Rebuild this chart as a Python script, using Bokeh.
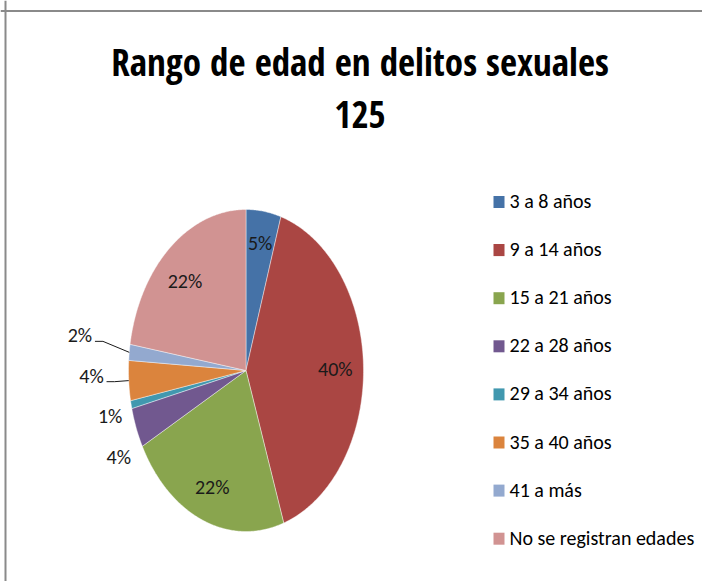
import numpy as np
from bokeh.plotting import figure
from bokeh.models import ColumnDataSource, Range1d, Span
from bokeh.core.properties import value
from bokeh.embed import file_html
from bokeh.resources import INLINE

# ---- data ----
title_lines = ["Rango de edad en delitos sexuales", "125"]
categories = ["3 a 8 años", "9 a 14 años", "15 a 21 años", "22 a 28 años",
              "29 a 34 años", "35 a 40 años", "41 a más", "No se registran edades"]
counts = [6, 50, 28, 5, 1, 5, 2, 28]
colors = ["#4572A7", "#AA4643", "#89A54E", "#71588F",
          "#4198AF", "#DB843D", "#93A9CF", "#D19392"]

# ---- layout / style (page pixels) ----
W, H = 702, 581
CX, CY, RX, RY = 245.5, 370.0, 117.5, 161.0
label_r = [0.80, 0.76, 0.78, 1.21, 1.19, 1.315, 1.43, 0.76]
label_dang = [0.0, 0.0, 0.0, -5.6, -1.4, 2.2, 2.3, -2.8]
leader = [False, False, False, False, False, True, True, False]
FONT = "Carlito"
TITLE_FONT = "Open Sans Condensed"

total = float(sum(counts))
frac = np.array(counts) / total
ends = np.cumsum(frac) * 2 * np.pi
starts = ends - frac * 2 * np.pi


def pt(theta, r):
    return CX + RX * r * np.sin(theta), CY - RY * r * np.cos(theta)


xs, ys = [], []
for s, e in zip(starts, ends):
    n = max(int((e - s) / 0.01), 2) + 1
    t = np.linspace(s, e, n)
    x, y = pt(t, 1.0)
    xs.append([CX] + list(x) + [CX])
    ys.append([CY] + list(y) + [CY])

pie_src = ColumnDataSource(dict(xs=xs, ys=ys, color=colors, label=categories))

p = figure(width=W, height=H, x_range=Range1d(0, W), y_range=Range1d(H, 0),
           x_axis_type=None, y_axis_type=None, toolbar_location=None,
           output_backend="svg", min_border=0, outline_line_color=None,
           outline_line_alpha=0, background_fill_color="white",
           border_fill_color="white")

# hide the canvas' right edge (chart border continues beyond the picture)
p.quad(left=[W - 9], right=[W + 2], top=[13], bottom=[H + 2], fill_color="white",
       line_color=None)

# chart border (left + top visible)
p.add_layout(Span(location=5, dimension="height", line_color="#8a8a8a", line_width=2))
p.add_layout(Span(location=10.5, dimension="width", line_color="#8a8a8a", line_width=2))

p.patches("xs", "ys", source=pie_src, fill_color="color", line_color="white",
          line_width=0.6, line_alpha=0.7)

# percentage labels
mids = (starts + ends) / 2
lx, ly, ltxt = [], [], []
for i, m in enumerate(mids):
    a = m + np.deg2rad(label_dang[i])
    x, y = pt(a, label_r[i])
    lx.append(x)
    ly.append(y)
    ltxt.append(f"{round(frac[i] * 100):.0f}%")
p.text(x=lx, y=ly, text=ltxt, text_font=value(FONT), text_font_size=value("20px"),
       text_align="center", text_baseline="middle", text_color="#1a1a1a")

# leader lines
mx, my = [], []
for i, m in enumerate(mids):
    if leader[i]:
        ex, ey = pt(m, 1.0)
        bx = lx[i] + 15
        by = ly[i] + 6
        mx.append([bx, bx + 8, ex])
        my.append([by, by, ey])
if mx:
    p.multi_line(mx, my, line_color="#1a1a1a", line_width=1)

# title
p.text(x=[359.5, 359.5], y=[61, 114], text=title_lines, text_font=value(TITLE_FONT),
       text_font_style="bold", text_font_size=value("37px"), text_align="center",
       text_baseline="middle", text_color="black")

# legend (manual)
LX, LY0, LDY = 498.5, 201.5, 48.1
leg_y = [LY0 + i * LDY for i in range(len(categories))]
p.rect(x=[LX] * len(categories), y=leg_y, width=11, height=12, fill_color=colors,
       line_color=None)
p.text(x=[LX + 10.5] * len(categories), y=[v - 1 for v in leg_y], text=categories,
       text_font=value(FONT), text_font_size=value("20px"), text_align="left",
       text_baseline="middle", text_color="black")

open("out.html", "w").write(file_html(p, INLINE))
